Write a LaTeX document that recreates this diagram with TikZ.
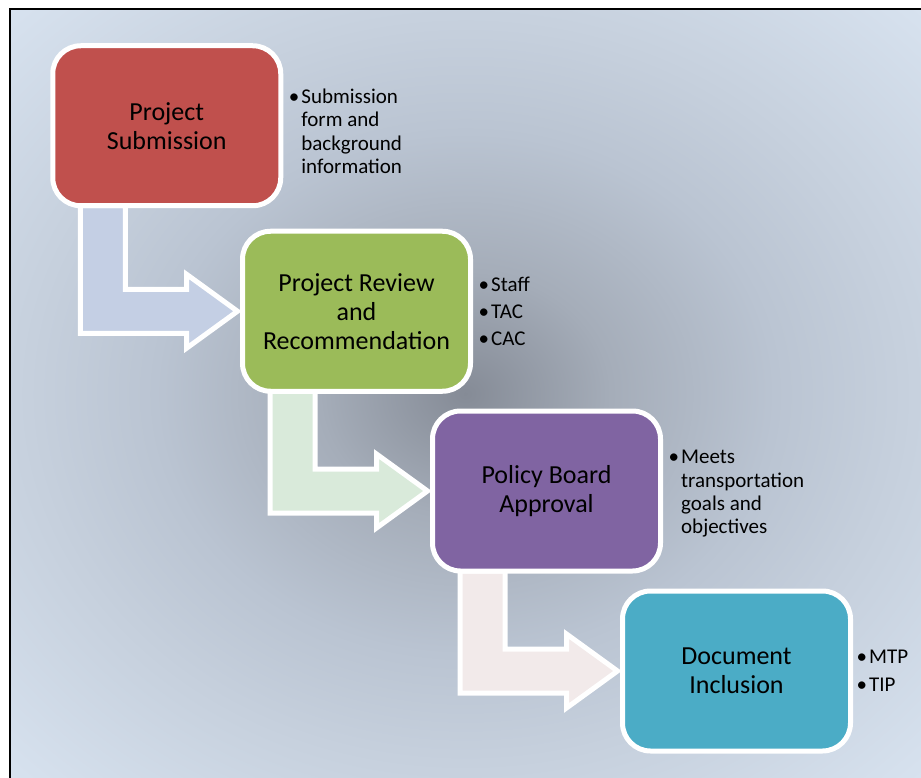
\documentclass[tikz,border=0pt]{standalone}
\usepackage{fontspec}
\setmainfont{Carlito}
\usetikzlibrary{positioning, calc, backgrounds}

\definecolor{subred}{HTML}{C0504D}
\definecolor{revgreen}{HTML}{9BBB59}
\definecolor{apppurple}{HTML}{8064A2}
\definecolor{incteal}{HTML}{4BACC6}
\definecolor{joinblue}{HTML}{C4CFE4}
\definecolor{joingreen}{HTML}{D9EADA}
\definecolor{joinpink}{HTML}{F2EAEA}
\definecolor{bgmid}{HTML}{858B96}
\definecolor{bgin}{HTML}{A5ADB9}
\definecolor{bgout}{HTML}{BAC4D2}
\definecolor{bgrim}{HTML}{C6D0DD}
\definecolor{bgedge}{HTML}{D8E3F0}

\pgfdeclareradialshading{backdrop}{\pgfpoint{0bp}{0bp}}{color(0bp)=(bgmid); color(8bp)=(bgin); color(17bp)=(bgout); color(24bp)=(bgrim); color(36bp)=(bgedge); color(50bp)=(bgedge)}

% bent arrow from one step box to the next
\newcommand{\stepjoin}[3]{%
  \draw[joinarrow, fill=#3] ($(#1.south west)+(27.5,0)$) -- ($(#1.south west)+(72.5,0)$)
    |- ($(#2.west)+(-56,-22)$) -- ++(0,-15) -- ($(#2.west)+(-5,0)$)
    -- ++(-51,37) -- ++(0,-15) -| ($(#1.south west)+(27.5,0)$) -- cycle;}

\begin{document}
\begin{tikzpicture}[x=1pt, y=-1pt,
    stepbox/.style={draw=white, line width=5pt, rounded corners=28pt,
      minimum width=228pt, minimum height=160pt, outer sep=0pt,
      align=center, font=\fontsize{26}{29}\selectfont},
    notebox/.style={inner sep=0pt, font=\fontsize{21}{23.3}\selectfont},
    joinarrow/.style={draw=white, line width=5pt, line join=miter}]
  \useasboundingbox (0,0) rectangle (921,778);

  % the four steps
  \node[stepbox, fill=subred] (sub) at (166.75,125.75) {Project\\Submission};
  \node[stepbox, fill=revgreen] (rev) at (356.5,311.25) {Project Review\\and\\Recommendation};
  \node[stepbox, fill=apppurple] (app) at (546.5,491) {Policy Board\\Approval};
  \node[stepbox, fill=incteal] (inc) at (736.5,671) {Document\\Inclusion};

  % notes beside the steps
  \node[notebox, right=8pt of sub, yshift=-8pt] (subnote)
    {\begin{tabular}{@{}l@{\hspace{2pt}}l@{}}\textbullet&Submission\\&form and\\&background\\&information\end{tabular}};
  \node[notebox, right=8pt of rev, yshift=-3pt] (revnote)
    {\begin{tabular}{@{}l@{\hspace{2pt}}l@{}}\textbullet&Staff\\[3.7pt]\textbullet&TAC\\[3.7pt]\textbullet&CAC\end{tabular}};
  \node[notebox, right=8pt of app, yshift=-3pt] (appnote)
    {\begin{tabular}{@{}l@{\hspace{2pt}}l@{}}\textbullet&Meets\\&transportation\\&goals and\\&objectives\end{tabular}};
  \node[notebox, right=6pt of inc, yshift=-2pt] (incnote)
    {\begin{tabular}{@{}l@{\hspace{2pt}}l@{}}\textbullet&MTP\\[4.5pt]\textbullet&TIP\end{tabular}};

  \begin{scope}[on background layer]
    \shade[shading=backdrop] (9.5,9.5) rectangle (921,778);
    \draw[line width=2pt] (9.5,790) |- (930,9.5);
    \stepjoin{sub}{rev}{joinblue}
    \stepjoin{rev}{app}{joingreen}
    \stepjoin{app}{inc}{joinpink}
  \end{scope}
\end{tikzpicture}
\end{document}
